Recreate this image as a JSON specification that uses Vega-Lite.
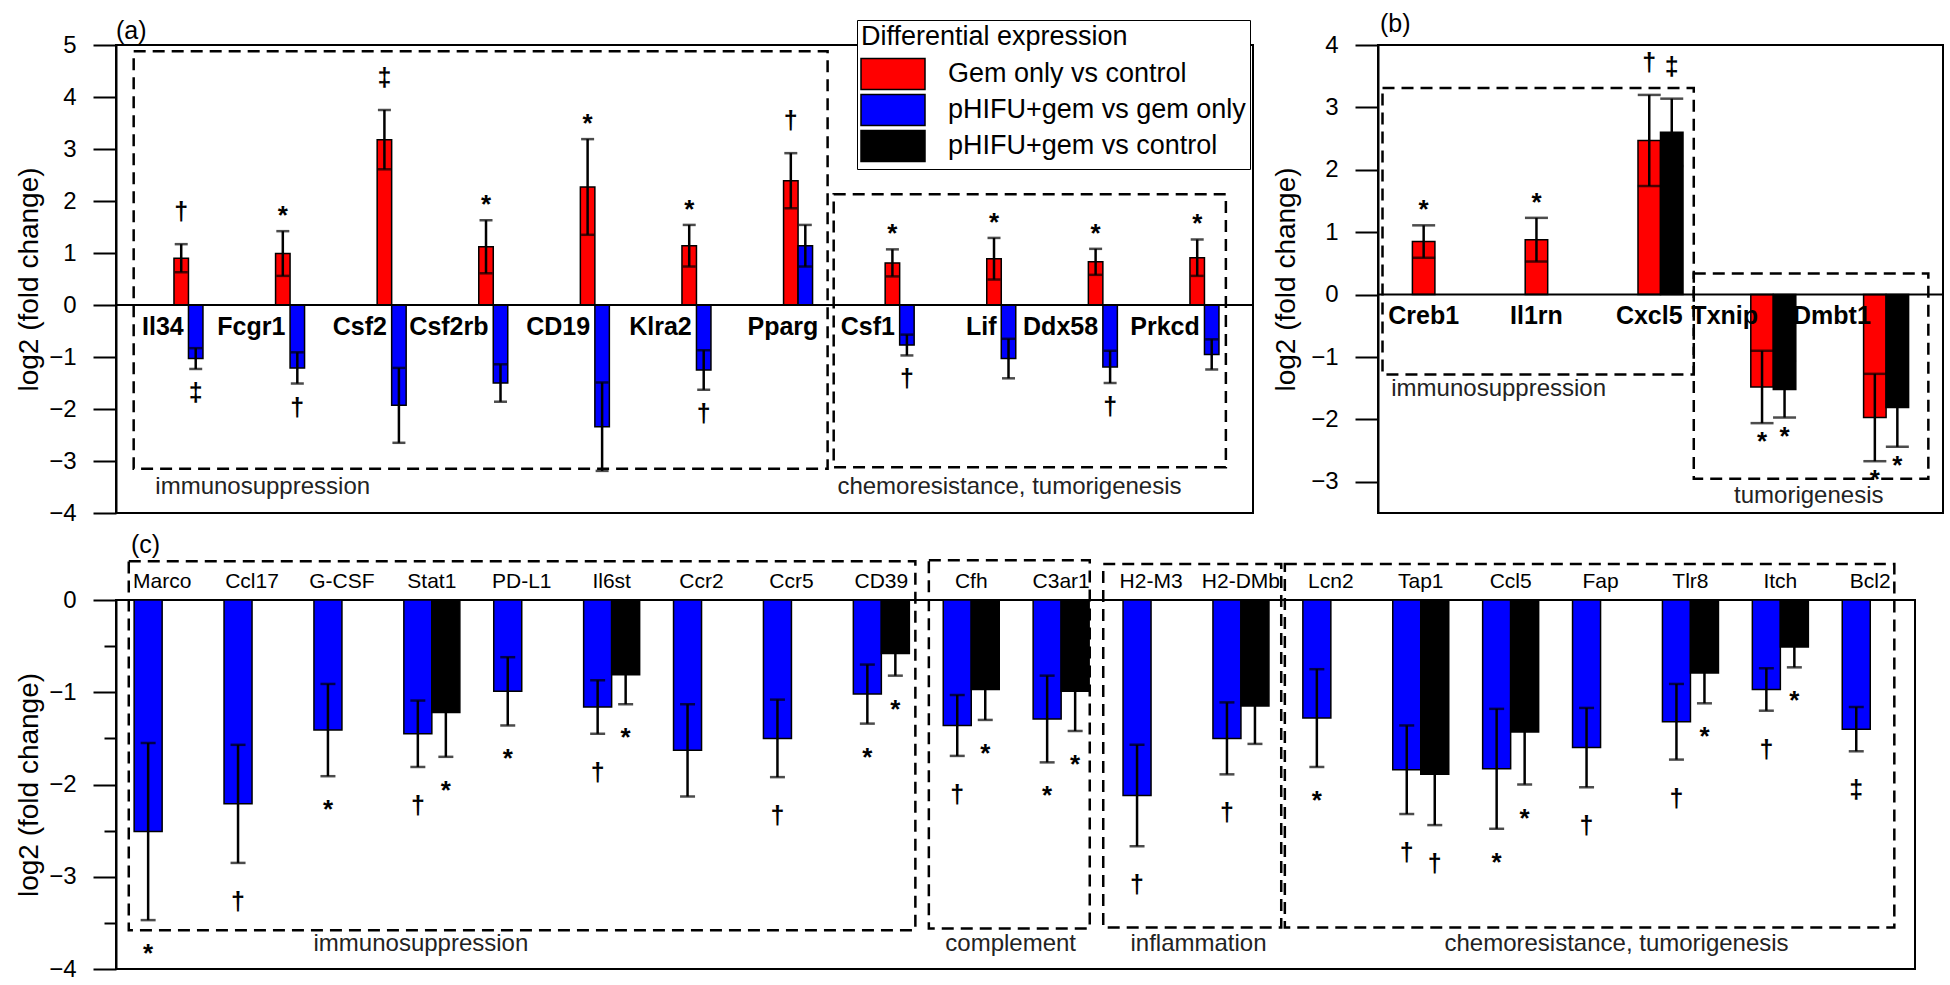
{
  "$schema": "https://vega.github.io/schema/vega-lite/v6.json",
  "padding": {"left": 14, "top": 11, "right": 13, "bottom": 19},
  "autosize": {"type": "pad"},
  "background": "white",
  "datasets": {
    "a": [
      {"gene": "Il34", "series": "Gem only vs control", "mean": 0.90, "lo": 0.63, "hi": 1.17, "sig": "†"},
      {"gene": "Il34", "series": "pHIFU+gem vs gem only", "mean": -1.03, "lo": -1.23, "hi": -0.83, "sig": "‡"},
      {"gene": "Fcgr1", "series": "Gem only vs control", "mean": 0.99, "lo": 0.56, "hi": 1.42, "sig": "*"},
      {"gene": "Fcgr1", "series": "pHIFU+gem vs gem only", "mean": -1.21, "lo": -1.51, "hi": -0.91, "sig": "†"},
      {"gene": "Csf2", "series": "Gem only vs control", "mean": 3.18, "lo": 2.61, "hi": 3.75, "sig": "‡"},
      {"gene": "Csf2", "series": "pHIFU+gem vs gem only", "mean": -1.93, "lo": -2.65, "hi": -1.21, "sig": ""},
      {"gene": "Csf2rb", "series": "Gem only vs control", "mean": 1.12, "lo": 0.61, "hi": 1.63, "sig": "*"},
      {"gene": "Csf2rb", "series": "pHIFU+gem vs gem only", "mean": -1.50, "lo": -1.86, "hi": -1.14, "sig": ""},
      {"gene": "CD19", "series": "Gem only vs control", "mean": 2.27, "lo": 1.35, "hi": 3.19, "sig": "*"},
      {"gene": "CD19", "series": "pHIFU+gem vs gem only", "mean": -2.34, "lo": -3.19, "hi": -1.49, "sig": ""},
      {"gene": "Klra2", "series": "Gem only vs control", "mean": 1.14, "lo": 0.74, "hi": 1.54, "sig": "*"},
      {"gene": "Klra2", "series": "pHIFU+gem vs gem only", "mean": -1.25, "lo": -1.63, "hi": -0.87, "sig": "†"},
      {"gene": "Pparg", "series": "Gem only vs control", "mean": 2.39, "lo": 1.86, "hi": 2.92, "sig": "†"},
      {"gene": "Pparg", "series": "pHIFU+gem vs gem only", "mean": 1.14, "lo": 0.74, "hi": 1.54, "sig": ""},
      {"gene": "Csf1", "series": "Gem only vs control", "mean": 0.81, "lo": 0.55, "hi": 1.07, "sig": "*"},
      {"gene": "Csf1", "series": "pHIFU+gem vs gem only", "mean": -0.77, "lo": -0.97, "hi": -0.57, "sig": "†"},
      {"gene": "Lif", "series": "Gem only vs control", "mean": 0.89, "lo": 0.49, "hi": 1.29, "sig": "*"},
      {"gene": "Lif", "series": "pHIFU+gem vs gem only", "mean": -1.03, "lo": -1.41, "hi": -0.65, "sig": ""},
      {"gene": "Ddx58", "series": "Gem only vs control", "mean": 0.83, "lo": 0.58, "hi": 1.08, "sig": "*"},
      {"gene": "Ddx58", "series": "pHIFU+gem vs gem only", "mean": -1.19, "lo": -1.50, "hi": -0.88, "sig": "†"},
      {"gene": "Prkcd", "series": "Gem only vs control", "mean": 0.91, "lo": 0.56, "hi": 1.26, "sig": "*"},
      {"gene": "Prkcd", "series": "pHIFU+gem vs gem only", "mean": -0.95, "lo": -1.24, "hi": -0.66, "sig": ""}
    ],
    "b": [
      {"gene": "Creb1", "series": "Gem only vs control", "mean": 0.85, "lo": 0.59, "hi": 1.11, "sig": "*"},
      {"gene": "Il1rn", "series": "Gem only vs control", "mean": 0.88, "lo": 0.53, "hi": 1.23, "sig": "*"},
      {"gene": "Cxcl5", "series": "Gem only vs control", "mean": 2.47, "lo": 1.74, "hi": 3.20, "sig": "†"},
      {"gene": "Cxcl5", "series": "pHIFU+gem vs control", "mean": 2.60, "lo": 2.06, "hi": 3.14, "sig": "‡"},
      {"gene": "Txnip", "series": "Gem only vs control", "mean": -1.48, "lo": -2.06, "hi": -0.90, "sig": "*"},
      {"gene": "Txnip", "series": "pHIFU+gem vs control", "mean": -1.52, "lo": -1.97, "hi": -1.07, "sig": "*"},
      {"gene": "Dmbt1", "series": "Gem only vs control", "mean": -1.97, "lo": -2.67, "hi": -1.27, "sig": "*"},
      {"gene": "Dmbt1", "series": "pHIFU+gem vs control", "mean": -1.81, "lo": -2.44, "hi": -1.18, "sig": "*"}
    ],
    "c": [
      {"gene": "Marco", "series": "pHIFU+gem vs gem only", "mean": -2.51, "lo": -3.47, "hi": -1.55, "sig": "*"},
      {"gene": "Ccl17", "series": "pHIFU+gem vs gem only", "mean": -2.21, "lo": -2.85, "hi": -1.57, "sig": "†"},
      {"gene": "G-CSF", "series": "pHIFU+gem vs gem only", "mean": -1.41, "lo": -1.91, "hi": -0.91, "sig": "*"},
      {"gene": "Stat1", "series": "pHIFU+gem vs gem only", "mean": -1.45, "lo": -1.81, "hi": -1.09, "sig": "†"},
      {"gene": "Stat1", "series": "pHIFU+gem vs control", "mean": -1.22, "lo": -1.70, "hi": -0.74, "sig": "*"},
      {"gene": "PD-L1", "series": "pHIFU+gem vs gem only", "mean": -0.99, "lo": -1.36, "hi": -0.62, "sig": "*"},
      {"gene": "Il6st", "series": "pHIFU+gem vs gem only", "mean": -1.16, "lo": -1.45, "hi": -0.87, "sig": "†"},
      {"gene": "Il6st", "series": "pHIFU+gem vs control", "mean": -0.81, "lo": -1.13, "hi": -0.49, "sig": "*"},
      {"gene": "Ccr2", "series": "pHIFU+gem vs gem only", "mean": -1.63, "lo": -2.13, "hi": -1.13, "sig": ""},
      {"gene": "Ccr5", "series": "pHIFU+gem vs gem only", "mean": -1.50, "lo": -1.92, "hi": -1.08, "sig": "†"},
      {"gene": "CD39", "series": "pHIFU+gem vs gem only", "mean": -1.02, "lo": -1.34, "hi": -0.70, "sig": "*"},
      {"gene": "CD39", "series": "pHIFU+gem vs control", "mean": -0.58, "lo": -0.82, "hi": -0.34, "sig": "*"},
      {"gene": "Cfh", "series": "pHIFU+gem vs gem only", "mean": -1.36, "lo": -1.69, "hi": -1.03, "sig": "†"},
      {"gene": "Cfh", "series": "pHIFU+gem vs control", "mean": -0.97, "lo": -1.30, "hi": -0.64, "sig": "*"},
      {"gene": "C3ar1", "series": "pHIFU+gem vs gem only", "mean": -1.29, "lo": -1.76, "hi": -0.82, "sig": "*"},
      {"gene": "C3ar1", "series": "pHIFU+gem vs control", "mean": -0.99, "lo": -1.42, "hi": -0.56, "sig": "*"},
      {"gene": "H2-M3", "series": "pHIFU+gem vs gem only", "mean": -2.12, "lo": -2.67, "hi": -1.57, "sig": "†"},
      {"gene": "H2-DMb", "series": "pHIFU+gem vs gem only", "mean": -1.50, "lo": -1.89, "hi": -1.11, "sig": "†"},
      {"gene": "H2-DMb", "series": "pHIFU+gem vs control", "mean": -1.15, "lo": -1.56, "hi": -0.74, "sig": ""},
      {"gene": "Lcn2", "series": "pHIFU+gem vs gem only", "mean": -1.28, "lo": -1.81, "hi": -0.75, "sig": "*"},
      {"gene": "Tap1", "series": "pHIFU+gem vs gem only", "mean": -1.84, "lo": -2.32, "hi": -1.36, "sig": "†"},
      {"gene": "Tap1", "series": "pHIFU+gem vs control", "mean": -1.89, "lo": -2.44, "hi": -1.34, "sig": "†"},
      {"gene": "Ccl5", "series": "pHIFU+gem vs gem only", "mean": -1.83, "lo": -2.48, "hi": -1.18, "sig": "*"},
      {"gene": "Ccl5", "series": "pHIFU+gem vs control", "mean": -1.43, "lo": -2.00, "hi": -0.86, "sig": "*"},
      {"gene": "Fap", "series": "pHIFU+gem vs gem only", "mean": -1.60, "lo": -2.03, "hi": -1.17, "sig": "†"},
      {"gene": "Tlr8", "series": "pHIFU+gem vs gem only", "mean": -1.32, "lo": -1.73, "hi": -0.91, "sig": "†"},
      {"gene": "Tlr8", "series": "pHIFU+gem vs control", "mean": -0.79, "lo": -1.12, "hi": -0.46, "sig": "*"},
      {"gene": "Itch", "series": "pHIFU+gem vs gem only", "mean": -0.97, "lo": -1.20, "hi": -0.74, "sig": "†"},
      {"gene": "Itch", "series": "pHIFU+gem vs control", "mean": -0.51, "lo": -0.73, "hi": -0.29, "sig": "*"},
      {"gene": "Bcl2", "series": "pHIFU+gem vs gem only", "mean": -1.40, "lo": -1.64, "hi": -1.16, "sig": "‡"}
    ],
    "boxA": [
      {"group": "immunosuppression", "x1": -0.04, "x2": 6.79, "y1": -3.15, "y2": 4.88, "lx": 1.23, "ly": -3.5},
      {"group": "chemoresistance, tumorigenesis", "x1": 6.85, "x2": 10.71, "y1": -3.12, "y2": 2.13, "lx": 8.58, "ly": -3.5}
    ],
    "boxB": [
      {"group": "immunosuppression", "x1": 0.03, "x2": 2.79, "y1": -1.28, "y2": 3.31, "lx": 1.06, "ly": -1.52},
      {"group": "tumorigenesis", "x1": 2.79, "x2": 4.87, "y1": -2.95, "y2": 0.34, "lx": 3.81, "ly": -3.22}
    ],
    "boxC": [
      {"group": "immunosuppression", "x1": 0.13, "x2": 8.88, "y1": -3.58, "y2": 0.42, "lx": 3.38, "ly": -3.73},
      {"group": "complement", "x1": 9.03, "x2": 10.82, "y1": -3.56, "y2": 0.43, "lx": 9.94, "ly": -3.73},
      {"group": "inflammation", "x1": 10.97, "x2": 12.95, "y1": -3.55, "y2": 0.39, "lx": 12.03, "ly": -3.73},
      {"group": "chemoresistance, tumorigenesis", "x1": 12.99, "x2": 19.77, "y1": -3.55, "y2": 0.39, "lx": 16.68, "ly": -3.73}
    ]
  },
  "bounds": "full",
  "spacing": 6,
  "resolve": {"scale": {"xOffset": "independent"}},
  "vconcat": [
    {
      "bounds": "flush",
      "spacing": 125,
      "resolve": {"scale": {"xOffset": "independent"}},
      "hconcat": [
        {
          "width": 1137,
          "height": 468,
          "title": {"text": "(a)", "offset": -11},
          "resolve": {"scale": {"x": "independent"}},
          "layer": [
            {
              "data": {"name": "boxA"},
              "layer": [
                {
                  "mark": {"type": "rect", "fill": "transparent", "stroke": "black", "strokeWidth": 2.5, "strokeDash": [12, 7]},
                  "encoding": {
                    "x": {"field": "x1", "type": "quantitative", "axis": null, "scale": {"domain": [-0.214, 10.977], "nice": false, "zero": false}},
                    "x2": {"field": "x2"},
                    "y": {"field": "y1", "type": "quantitative", "title": "log2 (fold change)"},
                    "y2": {"field": "y2"}
                  }
                },
                {
                  "mark": {"type": "text", "fontSize": 24, "color": "#222", "align": "center", "baseline": "middle"},
                  "encoding": {
                    "x": {"field": "lx", "type": "quantitative", "axis": null, "scale": {"domain": [-0.214, 10.977], "nice": false, "zero": false}},
                    "y": {"field": "ly", "type": "quantitative", "title": "log2 (fold change)"},
                    "text": {"field": "group"}
                  }
                }
              ]
            },
            {
              "data": {"name": "a"},
              "encoding": {
                "x": {"field": "gene", "type": "nominal", "axis": null, "scale": {"domain": ["Il34", "Fcgr1", "Csf2", "Csf2rb", "CD19", "Klra2", "Pparg", "Csf1", "Lif", "Ddx58", "Prkcd"], "paddingInner": 0.7146, "paddingOuter": 0.4528, "align": 0.63}},
                "xOffset": {"field": "series", "type": "nominal", "scale": {"domain": ["Gem only vs control", "pHIFU+gem vs gem only"], "paddingInner": 0, "paddingOuter": 0}}
              },
              "layer": [
                {
                  "mark": {"type": "bar", "stroke": "black", "strokeWidth": 1.5},
                  "encoding": {
                    "y": {"field": "mean", "type": "quantitative", "title": "log2 (fold change)", "scale": {"domain": [-4, 5], "nice": false},
                      "axis": {"values": [-4, -3.5, -3, -2.5, -2, -1.5, -1, -0.5, 0, 0.5, 1, 1.5, 2, 2.5, 3, 3.5, 4, 4.5, 5], "labelExpr": "datum.value % 1 === 0 ? format(datum.value, 'd') : ''", "tickSize": {"condition": {"test": "datum.value % 1 !== 0", "value": 12}, "value": 23}}},
                    "color": {"field": "series", "type": "nominal", "scale": {"domain": ["Gem only vs control", "pHIFU+gem vs gem only", "pHIFU+gem vs control"], "range": ["#ff0000", "#0000ff", "#000000"]}, "title": "Differential expression"}
                  }
                },
                {
                  "mark": {"type": "rule", "strokeWidth": 2.5, "color": "black"},
                  "encoding": {"y": {"field": "lo", "type": "quantitative", "title": "log2 (fold change)"}, "y2": {"field": "hi"}}
                },
                {
                  "mark": {"type": "tick", "orient": "horizontal", "size": 13, "thickness": 2.5, "color": "black"},
                  "encoding": {"y": {"field": "lo", "type": "quantitative", "title": "log2 (fold change)"}}
                },
                {
                  "mark": {"type": "tick", "orient": "horizontal", "size": 13, "thickness": 2.5, "color": "black"},
                  "encoding": {"y": {"field": "hi", "type": "quantitative", "title": "log2 (fold change)"}}
                },
                {
                  "transform": [{"filter": "datum.mean > 0 && datum.sig != '*' && datum.sig != ''"}],
                  "mark": {"type": "text", "fontSize": 25, "fontWeight": "bold", "baseline": "middle", "dy": -32},
                  "encoding": {"y": {"field": "hi", "type": "quantitative", "title": "log2 (fold change)"}, "text": {"field": "sig"}}
                },
                {
                  "transform": [{"filter": "datum.mean > 0 && datum.sig == '*'"}],
                  "mark": {"type": "text", "fontSize": 26, "fontWeight": "bold", "baseline": "middle", "dy": -15},
                  "encoding": {"y": {"field": "hi", "type": "quantitative", "title": "log2 (fold change)"}, "text": {"field": "sig"}}
                },
                {
                  "transform": [{"filter": "datum.mean < 0 && datum.sig != '*' && datum.sig != ''"}],
                  "mark": {"type": "text", "fontSize": 25, "fontWeight": "bold", "baseline": "middle", "dy": 24},
                  "encoding": {"y": {"field": "lo", "type": "quantitative", "title": "log2 (fold change)"}, "text": {"field": "sig"}}
                },
                {
                  "transform": [{"filter": "datum.series == 'pHIFU+gem vs gem only' && datum.mean < 0"}],
                  "mark": {"type": "text", "fontSize": 25, "fontWeight": "bold", "align": "right", "baseline": "middle", "dx": -12},
                  "encoding": {"y": {"datum": -0.42}, "text": {"field": "gene"}}
                },
                {
                  "transform": [{"filter": "datum.series == 'pHIFU+gem vs gem only' && datum.mean > 0"}],
                  "mark": {"type": "text", "fontSize": 25, "fontWeight": "bold", "align": "right", "baseline": "middle", "dx": 13},
                  "encoding": {"y": {"datum": -0.42}, "text": {"field": "gene"}}
                }
              ]
            },
            {
              "data": {"values": [{}]},
              "mark": {"type": "rule", "strokeWidth": 2, "color": "black"},
              "encoding": {"y": {"datum": 0}}
            }
          ]
        },
        {
          "width": 565,
          "height": 468,
          "title": {"text": "(b)", "offset": -4, "dx": 2},
          "resolve": {"scale": {"x": "independent"}},
          "layer": [
            {
              "data": {"name": "boxB"},
              "layer": [
                {
                  "mark": {"type": "rect", "fill": "transparent", "stroke": "black", "strokeWidth": 2.5, "strokeDash": [12, 7]},
                  "encoding": {
                    "x": {"field": "x1", "type": "quantitative", "axis": null, "scale": {"domain": [-0.01, 5.0], "nice": false, "zero": false}},
                    "x2": {"field": "x2"},
                    "y": {"field": "y1", "type": "quantitative", "title": "log2 (fold change)"},
                    "y2": {"field": "y2"}
                  }
                },
                {
                  "mark": {"type": "text", "fontSize": 24, "color": "#222", "align": "center", "baseline": "middle"},
                  "encoding": {
                    "x": {"field": "lx", "type": "quantitative", "axis": null, "scale": {"domain": [-0.01, 5.0], "nice": false, "zero": false}},
                    "y": {"field": "ly", "type": "quantitative", "title": "log2 (fold change)"},
                    "text": {"field": "group"}
                  }
                }
              ]
            },
            {
              "data": {"name": "b"},
              "encoding": {
                "x": {"field": "gene", "type": "nominal", "axis": null, "scale": {"domain": ["Creb1", "Il1rn", "Cxcl5", "Txnip", "Dmbt1"], "paddingInner": 0.601, "paddingOuter": 0.305, "align": 0.5}},
                "xOffset": {"field": "series", "type": "nominal", "scale": {"domain": ["Gem only vs control", "pHIFU+gem vs control"], "paddingInner": 0, "paddingOuter": 0}}
              },
              "layer": [
                {
                  "mark": {"type": "bar", "stroke": "black", "strokeWidth": 1.5},
                  "encoding": {
                    "y": {"field": "mean", "type": "quantitative", "title": "log2 (fold change)", "scale": {"domain": [-3.5, 4], "nice": false},
                      "axis": {"values": [-3, -2, -1, 0, 1, 2, 3, 4], "format": "d", "titlePadding": 10}},
                    "color": {"field": "series", "type": "nominal", "scale": {"domain": ["Gem only vs control", "pHIFU+gem vs gem only", "pHIFU+gem vs control"], "range": ["#ff0000", "#0000ff", "#000000"]}, "title": "Differential expression"}
                  }
                },
                {
                  "mark": {"type": "rule", "strokeWidth": 2.5, "color": "black"},
                  "encoding": {"y": {"field": "lo", "type": "quantitative", "title": "log2 (fold change)"}, "y2": {"field": "hi"}}
                },
                {
                  "mark": {"type": "tick", "orient": "horizontal", "size": 23, "thickness": 2.5, "color": "black"},
                  "encoding": {"y": {"field": "lo", "type": "quantitative", "title": "log2 (fold change)"}}
                },
                {
                  "mark": {"type": "tick", "orient": "horizontal", "size": 23, "thickness": 2.5, "color": "black"},
                  "encoding": {"y": {"field": "hi", "type": "quantitative", "title": "log2 (fold change)"}}
                },
                {
                  "transform": [{"filter": "datum.mean > 0 && datum.sig != '*' && datum.sig != ''"}],
                  "mark": {"type": "text", "fontSize": 25, "fontWeight": "bold", "baseline": "middle", "dy": -32},
                  "encoding": {"y": {"field": "hi", "type": "quantitative", "title": "log2 (fold change)"}, "text": {"field": "sig"}}
                },
                {
                  "transform": [{"filter": "datum.mean > 0 && datum.sig == '*'"}],
                  "mark": {"type": "text", "fontSize": 26, "fontWeight": "bold", "baseline": "middle", "dy": -15},
                  "encoding": {"y": {"field": "hi", "type": "quantitative", "title": "log2 (fold change)"}, "text": {"field": "sig"}}
                },
                {
                  "transform": [{"filter": "datum.mean < 0 && datum.sig == '*'"}],
                  "mark": {"type": "text", "fontSize": 26, "fontWeight": "bold", "baseline": "middle", "dy": 19},
                  "encoding": {"y": {"field": "lo", "type": "quantitative", "title": "log2 (fold change)"}, "text": {"field": "sig"}}
                },
                {
                  "transform": [{"filter": "datum.series == 'Gem only vs control' && datum.mean > 0"}],
                  "mark": {"type": "text", "fontSize": 25, "fontWeight": "bold", "align": "center", "baseline": "middle"},
                  "encoding": {"y": {"datum": -0.34}, "text": {"field": "gene"}}
                },
                {
                  "transform": [{"filter": "datum.series == 'Gem only vs control' && datum.mean < 0"}],
                  "mark": {"type": "text", "fontSize": 25, "fontWeight": "bold", "align": "right", "baseline": "middle", "dx": -4},
                  "encoding": {"y": {"datum": -0.34}, "text": {"field": "gene"}}
                }
              ]
            },
            {
              "data": {"values": [{}]},
              "mark": {"type": "rule", "strokeWidth": 2, "color": "black"},
              "encoding": {"y": {"datum": 0}}
            }
          ]
        }
      ]
    },
    {
      "width": 1799,
      "height": 369,
      "title": {"text": "(c)", "offset": 1, "dx": 15},
      "resolve": {"scale": {"x": "independent"}},
      "layer": [
        {
          "data": {"name": "boxC"},
          "layer": [
            {
              "mark": {"type": "rect", "fill": "transparent", "stroke": "black", "strokeWidth": 2.5, "strokeDash": [12, 7]},
              "encoding": {
                "x": {"field": "x1", "type": "quantitative", "axis": null, "scale": {"domain": [-0.012, 20.0], "nice": false, "zero": false}},
                "x2": {"field": "x2"},
                "y": {"field": "y1", "type": "quantitative", "title": "log2 (fold change)"},
                "y2": {"field": "y2"}
              }
            },
            {
              "mark": {"type": "text", "fontSize": 24, "color": "#222", "align": "center", "baseline": "middle"},
              "encoding": {
                "x": {"field": "lx", "type": "quantitative", "axis": null, "scale": {"domain": [-0.012, 20.0], "nice": false, "zero": false}},
                "y": {"field": "ly", "type": "quantitative", "title": "log2 (fold change)"},
                "text": {"field": "group"}
              }
            }
          ]
        },
        {
          "data": {"name": "c"},
          "encoding": {
            "x": {"field": "gene", "type": "nominal", "axis": null, "scale": {"domain": ["Marco", "Ccl17", "G-CSF", "Stat1", "PD-L1", "Il6st", "Ccr2", "Ccr5", "CD39", "Cfh", "C3ar1", "H2-M3", "H2-DMb", "Lcn2", "Tap1", "Ccl5", "Fap", "Tlr8", "Itch", "Bcl2"], "paddingInner": 0.377, "paddingOuter": 0.194, "align": 0.52}},
            "xOffset": {"field": "series", "type": "nominal", "scale": {"domain": ["pHIFU+gem vs gem only", "pHIFU+gem vs control"], "paddingInner": 0, "paddingOuter": 0}}
          },
          "layer": [
            {
              "mark": {"type": "bar", "stroke": "black", "strokeWidth": 1.5},
              "encoding": {
                "y": {"field": "mean", "type": "quantitative", "title": "log2 (fold change)", "scale": {"domain": [-4, 0], "nice": false},
                  "axis": {"values": [-4, -3.5, -3, -2.5, -2, -1.5, -1, -0.5, 0], "labelExpr": "datum.value % 1 === 0 ? format(datum.value, 'd') : ''", "tickSize": {"condition": {"test": "datum.value % 1 !== 0", "value": 12}, "value": 23}}},
                "color": {"field": "series", "type": "nominal", "scale": {"domain": ["Gem only vs control", "pHIFU+gem vs gem only", "pHIFU+gem vs control"], "range": ["#ff0000", "#0000ff", "#000000"]}, "title": "Differential expression"}
              }
            },
            {
              "mark": {"type": "rule", "strokeWidth": 2.5, "color": "black"},
              "encoding": {"y": {"field": "lo", "type": "quantitative", "title": "log2 (fold change)"}, "y2": {"field": "hi"}}
            },
            {
              "mark": {"type": "tick", "orient": "horizontal", "size": 15, "thickness": 2.5, "color": "black"},
              "encoding": {"y": {"field": "lo", "type": "quantitative", "title": "log2 (fold change)"}}
            },
            {
              "mark": {"type": "tick", "orient": "horizontal", "size": 15, "thickness": 2.5, "color": "black"},
              "encoding": {"y": {"field": "hi", "type": "quantitative", "title": "log2 (fold change)"}}
            },
            {
              "transform": [{"filter": "datum.mean < 0 && datum.sig != '*' && datum.sig != ''"}],
              "mark": {"type": "text", "fontSize": 25, "fontWeight": "bold", "baseline": "middle", "dy": 39},
              "encoding": {"y": {"field": "lo", "type": "quantitative", "title": "log2 (fold change)"}, "text": {"field": "sig"}}
            },
            {
              "transform": [{"filter": "datum.mean < 0 && datum.sig == '*'"}],
              "mark": {"type": "text", "fontSize": 26, "fontWeight": "bold", "baseline": "middle", "dy": 34},
              "encoding": {"y": {"field": "lo", "type": "quantitative", "title": "log2 (fold change)"}, "text": {"field": "sig"}}
            },
            {
              "transform": [{"filter": "datum.series == 'pHIFU+gem vs gem only'"}],
              "mark": {"type": "text", "fontSize": 21, "align": "center", "baseline": "middle", "dx": 14},
              "encoding": {"y": {"datum": 0.2}, "text": {"field": "gene"}}
            }
          ]
        }
      ]
    }
  ],
  "config": {
    "font": "Liberation Sans",
    "view": {"stroke": "black", "strokeWidth": 2},
    "axis": {"grid": false, "domainColor": "black", "domainWidth": 2, "tickColor": "black", "tickWidth": 2, "tickSize": 23, "labelColor": "black", "labelFontSize": 24, "labelFont": "Liberation Sans", "labelPadding": 17, "labelFlush": false, "labelOverlap": false, "titleFont": "Liberation Sans", "titleFontSize": 28, "titleFontWeight": "normal", "titleColor": "black", "titlePadding": 5},
    "title": {"font": "Liberation Sans", "fontSize": 25, "fontWeight": "normal", "color": "black", "anchor": "start", "frame": "group"},
    "text": {"font": "Liberation Sans", "color": "black"},
    "legend": {
      "orient": "none", "legendX": 741, "legendY": -25,
      "symbolType": "M-2,-0.97L2,-0.97L2,0.97L-2,0.97Z",
      "symbolSize": 1024, "symbolOffset": 15, "symbolStrokeColor": "black", "symbolStrokeWidth": 1.5, "symbolOpacity": 1,
      "labelOffset": 38, "labelFontSize": 27, "labelFont": "Liberation Sans", "labelColor": "black", "labelLimit": 600,
      "titleFontSize": 27, "titleFont": "Liberation Sans", "titleFontWeight": "normal", "titleColor": "black", "titleLimit": 600, "titlePadding": 6,
      "rowPadding": -3, "padding": 4, "fillColor": "white", "strokeColor": "black", "zindex": 1
    }
  }
}
